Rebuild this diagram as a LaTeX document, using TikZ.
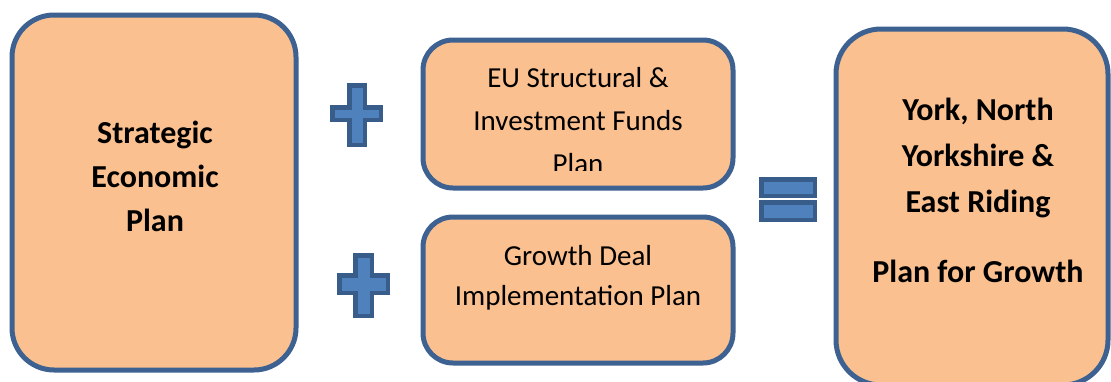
\documentclass[tikz,border=0pt]{standalone}
\usepackage{fontspec}
\setmainfont{Carlito}
\definecolor{boxfill}{HTML}{FAC090}
\definecolor{boxline}{HTML}{3D6190}
\definecolor{signfill}{HTML}{4F81BD}
\definecolor{signline}{HTML}{385D8A}
\tikzset{
  planbox/.style={draw=boxline, fill=boxfill, line width=5pt, inner sep=0pt},
  boldtxt/.style={anchor=base, inner sep=0pt, font=\fontsize{32}{38}\selectfont\bfseries},
  regtxt/.style={anchor=base, inner sep=0pt, font=\fontsize{29}{34}\selectfont},
  sign/.style={draw=signline, fill=signfill, line width=4.5pt, line join=miter}
}
\begin{document}
\begin{tikzpicture}[x=1pt,y=-1pt]
\useasboundingbox (0,0) rectangle (1111,381);
\fill[white] (0,0) rectangle (1111,381);
\clip (0,0) rectangle (1111,381);
% boxes
\node[planbox, rounded corners=42pt, minimum width=284pt, minimum height=355pt] (sep) at (154,192.5) {};
\node[planbox, rounded corners=30pt, minimum width=310pt, minimum height=148pt] (eu) at (578,114) {};
\node[planbox, rounded corners=30pt, minimum width=310pt, minimum height=146pt] (gd) at (578,290) {};
\node[planbox, rounded corners=45pt, minimum width=272pt, minimum height=356pt] (pfg) at (972,207) {};
% texts
\node[boldtxt] (sep1) at (155,143) {Strategic};
\node[boldtxt] (sep2) at (155,187) {Economic};
\node[boldtxt] (sep3) at (155,231) {Plan};
\begin{scope}
\clip (423,40) rectangle (733,170);
\node[regtxt] (eu1) at (578,87) {EU Structural \&};
\node[regtxt] (eu2) at (578,130) {Investment Funds};
\node[regtxt] (eu3) at (578,173) {Plan};
\end{scope}
\node[regtxt] (gd1) at (578,265) {Growth Deal};
\node[regtxt] (gd2) at (578,305) {Implementation Plan};
\node[boldtxt] (pfg1) at (978,120) {York, North};
\node[boldtxt] (pfg2) at (978,166) {Yorkshire \&};
\node[boldtxt] (pfg3) at (978,212) {East Riding};
\node[boldtxt] (pfg4) at (978,282) {Plan for Growth};
% plus signs
\draw[sign] (349.25,85.25) -- (364.75,85.25) -- (364.75,107.25) -- (380.75,107.25) -- (380.75,119.75)
  -- (364.75,119.75) -- (364.75,144.75) -- (349.25,144.75) -- (349.25,119.75) -- (332.25,119.75)
  -- (332.25,107.25) -- (349.25,107.25) -- cycle;
\draw[sign] (355.25,255.25) -- (371.75,255.25) -- (371.75,275.25) -- (387.75,275.25) -- (387.75,292.75)
  -- (371.75,292.75) -- (371.75,315.75) -- (355.25,315.75) -- (355.25,292.75) -- (339.25,292.75)
  -- (339.25,275.25) -- (355.25,275.25) -- cycle;
% equals sign
\draw[sign] (761.25,179.25) rectangle (814.75,195.75);
\draw[sign] (761.25,202.25) rectangle (814.75,219.75);
\end{tikzpicture}
\end{document}
